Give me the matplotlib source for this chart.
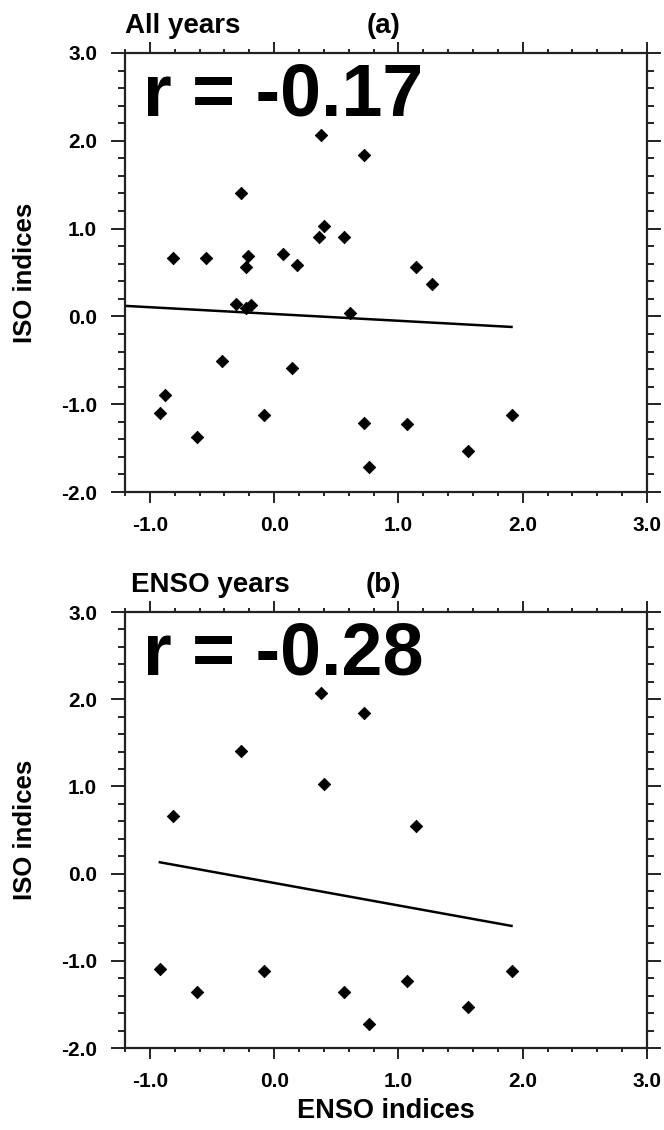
import matplotlib
matplotlib.use("Agg")
import matplotlib.pyplot as plt
from matplotlib.ticker import MultipleLocator, FormatStrFormatter

plt.rcParams['font.family'] = ['Liberation Sans', 'DejaVu Sans']
plt.rcParams['font.weight'] = 'bold'

# ---- data: panel (a) all years ----
enso_all = [0.38, 0.72, -0.27, 0.40, 0.36, 0.56, -0.81, -0.55, -0.21, -0.23,
            0.07, 0.18, 1.14, 1.27, -0.31, -0.23, -0.19, 0.61, -0.42, 0.14,
            -0.88, -0.92, -0.08, 0.72, 1.07, 1.91, -0.62, 1.56, 0.76]
iso_all = [2.07, 1.84, 1.40, 1.03, 0.91, 0.91, 0.67, 0.67, 0.69, 0.56,
           0.71, 0.59, 0.56, 0.37, 0.14, 0.10, 0.13, 0.04, -0.51, -0.59,
           -0.89, -1.10, -1.12, -1.21, -1.23, -1.12, -1.37, -1.53, -1.71]
fit_x_all = [-1.2, 1.91]
fit_y_all = [0.12, -0.12]

# ---- data: panel (b) ENSO years ----
enso_ens = [0.38, 0.72, -0.27, 0.40, -0.81, 1.14, -0.92, -0.62, -0.08,
            0.56, 0.76, 1.07, 1.56, 1.91]
iso_ens = [2.07, 1.84, 1.41, 1.03, 0.66, 0.55, -1.09, -1.36, -1.12,
           -1.36, -1.72, -1.23, -1.53, -1.12]
fit_x_ens = [-0.92, 1.91]
fit_y_ens = [0.13, -0.60]

titles = ["All years", "ENSO years"]
letters = ["(a)", "(b)"]
r_texts = ["r = -0.17", "r = -0.28"]

fig = plt.figure(figsize=(6.64, 11.30), dpi=100)
W, H = 664.0, 1130.0
left_px, right_px = 125, 647
panels = [(53, 492), (612, 1048)]

data = [(enso_all, iso_all, fit_x_all, fit_y_all),
        (enso_ens, iso_ens, fit_x_ens, fit_y_ens)]

for i, ((top, bot), (x, y, fx, fy)) in enumerate(zip(panels, data)):
    ax = fig.add_axes([left_px / W, 1 - bot / H, (right_px - left_px) / W, (bot - top) / H])
    ax.scatter(x, y, marker='D', s=40, color='black', zorder=3, linewidths=0.6,
               edgecolors='black')
    ax.plot(fx, fy, color='black', lw=1.8, zorder=2)
    ax.set_xlim(-1.2, 3.0)
    ax.set_ylim(-2.0, 3.0)
    ax.xaxis.set_major_locator(MultipleLocator(1.0))
    ax.xaxis.set_minor_locator(MultipleLocator(0.2))
    ax.yaxis.set_major_locator(MultipleLocator(1.0))
    ax.yaxis.set_minor_locator(MultipleLocator(0.2))
    ax.xaxis.set_major_formatter(FormatStrFormatter('%.1f'))
    ax.yaxis.set_major_formatter(FormatStrFormatter('%.1f'))
    for s in ax.spines.values():
        s.set_linewidth(1.6)
        s.set_color('#222222')
    ax.tick_params(axis='both', which='both', direction='out', top=True, right=True,
                   width=1.4, color='#222222')
    ax.tick_params(axis='x', which='major', length=8, pad=9, labelsize=15)
    ax.tick_params(axis='x', which='minor', length=3)
    ax.tick_params(axis='y', which='major', length=10, pad=10, labelsize=15)
    ax.tick_params(axis='y', which='minor', length=5)
    for lab in ax.get_xticklabels() + ax.get_yticklabels():
        lab.set_fontweight('bold')
    ax.set_ylabel("ISO indices", fontsize=18.5, fontweight='bold', labelpad=17)
    if i == 1:
        ax.set_xlabel("ENSO indices", fontsize=19.5, fontweight='bold', labelpad=5)
    ax.text(0.0 if i == 0 else 0.012, 1.0 + 20 / (bot - top), titles[i],
            transform=ax.transAxes, fontsize=20, fontweight='bold',
            ha='left', va='baseline')
    ax.text(0.495, 1.0 + 20 / (bot - top), letters[i], transform=ax.transAxes,
            fontsize=20, fontweight='bold', ha='center', va='baseline')
    ax.text(0.034, 0.857, r_texts[i], transform=ax.transAxes, fontsize=53,
            fontweight='bold', ha='left', va='baseline')

fig.savefig("out.png", dpi=100, facecolor='white')
